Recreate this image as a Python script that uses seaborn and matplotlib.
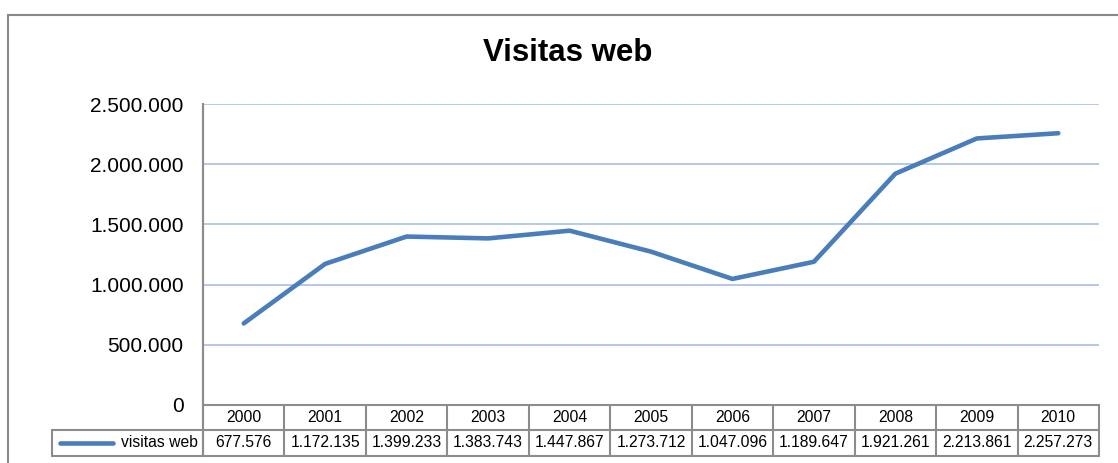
import numpy as np
import matplotlib
matplotlib.use("Agg")
import matplotlib.pyplot as plt
import matplotlib.transforms as mtransforms
from matplotlib.ticker import FuncFormatter
import seaborn as sns

years = ["2000", "2001", "2002", "2003", "2004", "2005",
         "2006", "2007", "2008", "2009", "2010"]
visitas = [677576, 1172135, 1399233, 1383743, 1447867, 1273712,
           1047096, 1189647, 1921261, 2213861, 2257273]
serie = "visitas web"
titulo = "Visitas web"
yticks = [0, 500000, 1000000, 1500000, 2000000, 2500000]

W, H = 1118, 463
LINE = "#4A7EBB"
GRID = "#A9BFE6"
BORDER = "#8C8C8C"


def miles(v, pos=None):
    return "{:,.0f}".format(v).replace(",", ".")


def fx(px):
    return px / W


def fy(py):
    return 1 - py / H


sns.set_style("white")
plt.rcParams["font.family"] = ["Liberation Sans", "DejaVu Sans"]
plt.rcParams["text.color"] = "black"
plt.rcParams["ytick.color"] = "black"
plt.rcParams["ytick.labelcolor"] = "black"

fig = plt.figure(figsize=(W / 100, H / 100), dpi=100)
fig.patch.set_facecolor("white")

# marco exterior del grafico
fig.add_artist(plt.Rectangle((fx(8), fy(475)), fx(1130 - 8), fy(15) - fy(475),
                             transform=fig.transFigure, fill=False,
                             edgecolor="#898989", lw=1.5))

ax = fig.add_axes([fx(203), fy(405), fx(1099 - 203), fy(104) - fy(405)])
x = np.arange(len(years))
sns.lineplot(x=x, y=visitas, ax=ax, color=LINE, lw=3.3,
             solid_capstyle="round", legend=False)

ax.set_xlim(-0.5, len(years) - 0.5)
ax.set_ylim(0, 2500000)
ax.set_yticks(yticks)
ax.yaxis.set_major_formatter(FuncFormatter(miles))
ax.set_xticks([])
ax.tick_params(axis="y", length=0, pad=14, labelsize=15, labelcolor="black")
ax.yaxis.grid(True, color=GRID, lw=1.2)
ax.set_axisbelow(True)
for s in ["top", "right"]:
    ax.spines[s].set_visible(False)
for s in ["left", "bottom"]:
    ax.spines[s].set_color(BORDER)
    ax.spines[s].set_linewidth(1.5)
ax.set_xlabel("")
ax.set_ylabel("")

fig.text(fx(568), fy(53), titulo, ha="center", va="center",
         fontsize=22.5, fontweight="bold", color="black")

# tabla de datos bajo el eje
tr = mtransforms.blended_transform_factory(ax.transData, fig.transFigure)
y_top, y_mid, y_bot = fy(405), fy(429.5), fy(456)
lkw = dict(color=BORDER, lw=1.5, clip_on=False)
for i in range(len(years) + 1):
    ax.plot([i - 0.5, i - 0.5], [y_top, y_bot], transform=tr, **lkw)
ax.plot([-0.5, len(years) - 0.5], [y_mid, y_mid], transform=tr, **lkw)
ax.plot([-0.5, len(years) - 0.5], [y_bot, y_bot], transform=tr, **lkw)
ax.plot([-0.5, -0.5], [fy(104.5), y_bot], transform=tr,
        solid_capstyle="butt", **lkw)

fig.add_artist(plt.Line2D([fx(52), fx(203)], [y_mid, y_mid], color=BORDER, lw=1.5))
fig.add_artist(plt.Line2D([fx(52), fx(203)], [y_bot, y_bot], color=BORDER, lw=1.5))
fig.add_artist(plt.Line2D([fx(52), fx(52)], [y_mid, y_bot], color=BORDER, lw=1.5))

for i, (yr, v) in enumerate(zip(years, visitas)):
    ax.text(i, (y_top + y_mid) / 2, yr, transform=tr, ha="center",
            va="center", fontsize=11.3, color="black")
    ax.text(i, (y_mid + y_bot) / 2, miles(v), transform=tr, ha="center",
            va="center", fontsize=11.3, color="black")

# clave de leyenda en la tabla
y_row = (y_mid + y_bot) / 2
fig.add_artist(plt.Line2D([fx(60), fx(113)], [y_row, y_row], color=LINE,
                          lw=3.3, solid_capstyle="round"))
fig.text(fx(198), y_row, serie, ha="right", va="center", fontsize=11.3,
         color="black")

fig.savefig("out.png", dpi=100, facecolor="white")
